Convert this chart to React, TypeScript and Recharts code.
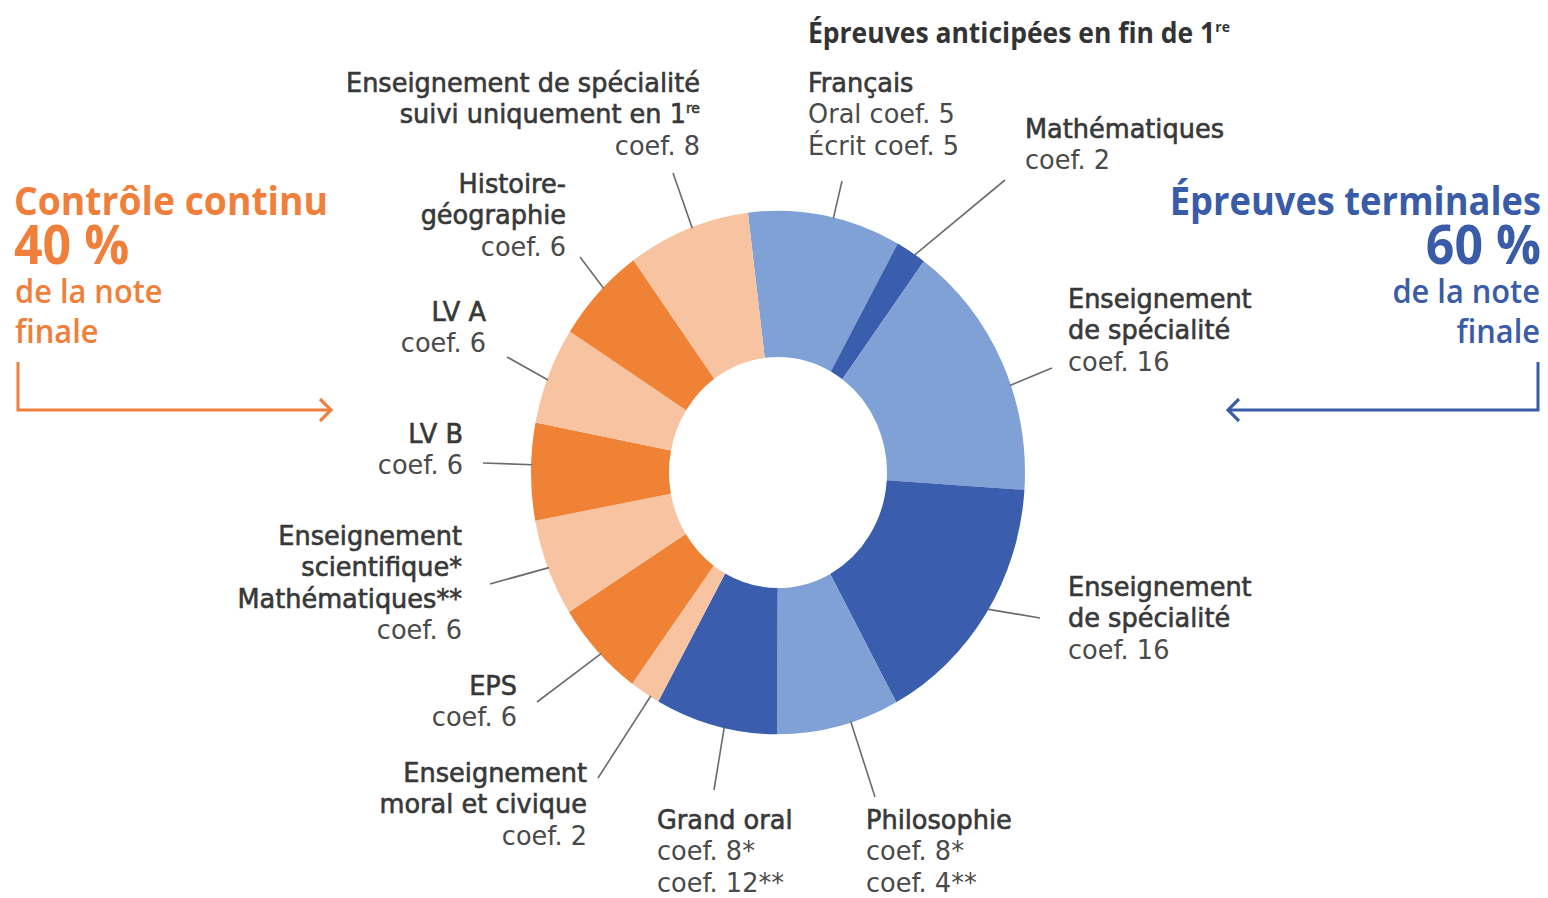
import React from 'react';
import { PieChart, Pie, Cell } from 'recharts';

// The reference picture is stretched vertically by this factor.
const K = 1.06;
const W = 1548;
const H_REF = 898;
const H = H_REF / K;

const subjects = [
  'Français',
  'Mathématiques',
  'Enseignement de spécialité',
  'Enseignement de spécialité',
  'Philosophie',
  'Grand oral',
  'Enseignement moral et civique',
  'EPS',
  'Enseignement scientifique / Mathématiques',
  'LV B',
  'LV A',
  'Histoire-géographie',
  'Enseignement de spécialité suivi uniquement en 1re',
];
const coefficients = [10, 2, 16, 16, 8, 8, 2, 6, 6, 6, 6, 6, 8];
const tones = [
  'blueLight', 'blueDark', 'blueLight', 'blueDark', 'blueLight', 'blueDark',
  'orangeLight', 'orange', 'orangeLight', 'orange', 'orangeLight', 'orange', 'orangeLight',
];
const palette: Record<string, string> = {
  blueLight: '#7FA1D6',
  blueDark: '#3A5DAD',
  orangeLight: '#F7C3A1',
  orange: '#F08235',
};

const labelLines: string[][] = [
  ['Français', 'Oral coef. 5', 'Écrit coef. 5'],
  ['Mathématiques', 'coef. 2'],
  ['Enseignement', 'de spécialité', 'coef. 16'],
  ['Enseignement', 'de spécialité', 'coef. 16'],
  ['Philosophie', 'coef. 8*', 'coef. 4**'],
  ['Grand oral', 'coef. 8*', 'coef. 12**'],
  ['Enseignement', 'moral et civique', 'coef. 2'],
  ['EPS', 'coef. 6'],
  ['Enseignement', 'scientifique*', 'Mathématiques**', 'coef. 6'],
  ['LV B', 'coef. 6'],
  ['LV A', 'coef. 6'],
  ['Histoire-', 'géographie', 'coef. 6'],
  ['Enseignement de spécialité', 'suivi uniquement en 1^re', 'coef. 8'],
];
const nameLineCount = [1, 1, 2, 2, 1, 1, 2, 1, 3, 1, 1, 2, 2];

// label placement (reference pixel coords)
const labelLayout = [
  { x: 808, anchor: 'start', y: 92, lx: 842, ly: 181, shift: 2 },
  { x: 1025, anchor: 'start', y: 138, lx: 1005, ly: 180, shift: 1 },
  { x: 1068, anchor: 'start', y: 308, lx: 1052, ly: 368, shift: 5.5 },
  { x: 1068, anchor: 'start', y: 596, lx: 1040, ly: 618, shift: -1 },
  { x: 866, anchor: 'start', y: 829, lx: 875, ly: 797, shift: -3 },
  { x: 657, anchor: 'start', y: 829, lx: 714, ly: 790, shift: -2 },
  { x: 587, anchor: 'end', y: 782, lx: 598, ly: 778, shift: -1.5 },
  { x: 517, anchor: 'end', y: 695, lx: 537, ly: 702, shift: -1 },
  { x: 462, anchor: 'end', y: 545, lx: 490, ly: 584, shift: 0 },
  { x: 463, anchor: 'end', y: 443, lx: 483, ly: 463, shift: 1.5 },
  { x: 486, anchor: 'end', y: 321, lx: 507, ly: 357, shift: -1 },
  { x: 566, anchor: 'end', y: 193, lx: 580, ly: 257, shift: 1.5 },
  { x: 700, anchor: 'end', y: 92, lx: 673, ly: 173, shift: 1 },
];

const LINE_GAP = 31.5;
const LABEL_FONT = '"DejaVu Sans", sans-serif';
const LABEL_SIZE = 25.6;
const HEAD_FONT = '"Open Sans", sans-serif';
const ORANGE = '#EF7F3A';
const BLUE = '#3A5CA8';

const data = subjects.map((name, i) => ({
  name,
  value: coefficients[i],
  color: palette[tones[i]],
}));

const RAD = Math.PI / 180;

function renderLine(text: string, key: number) {
  const parts = text.split('^');
  if (parts.length === 1) return text;
  return (
    <>
      {parts[0]}
      <tspan key={key} fontSize={14} dy={-10}>{parts[1]}</tspan>
    </>
  );
}

function renderLabel(props: any) {
  const { cx, cy, midAngle, outerRadius, index } = props;
  const lay = labelLayout[index];
  const a = (midAngle - lay.shift) * RAD;
  const r = outerRadius - 1;
  const sx = cx + r * Math.cos(a);
  const sy = cy - r * Math.sin(a);
  const ex = lay.lx;
  const ey = lay.ly / K;
  const lines = labelLines[index];
  return (
    <g key={`lbl-${index}`}>
      <line x1={sx} y1={sy} x2={ex} y2={ey} stroke="#6b6b6b" strokeWidth={1.6} />
      {lines.map((t, i) => {
        const isName = i < nameLineCount[index];
        return (
          <text
            key={i}
            x={lay.x}
            y={(lay.y + i * LINE_GAP) / K}
            textAnchor={lay.anchor as any}
            fontFamily={LABEL_FONT}
            fontSize={LABEL_SIZE}
            fill={isName ? '#383838' : '#4a4a4a'}
            stroke={isName ? '#383838' : 'none'}
            strokeWidth={isName ? 0.6 : 0}
          >
            {renderLine(t, i)}
          </text>
        );
      })}
    </g>
  );
}

export default function App() {
  return (
    <div
      style={{
        position: 'absolute',
        left: 0,
        top: 0,
        width: W,
        height: H_REF,
        overflow: 'hidden',
        background: '#ffffff',
      }}
    >
      <div
        style={{
          position: 'absolute',
          left: 0,
          top: 0,
          width: W,
          height: H,
          transform: `scale(1, ${K})`,
          transformOrigin: '0 0',
        }}
      >
        <PieChart width={W} height={H} margin={{ top: 0, right: 0, bottom: 0, left: 0 }}>
          <Pie
            data={data}
            dataKey="value"
            nameKey="name"
            cx={778}
            cy={472.5 / K}
            innerRadius={109}
            outerRadius={247}
            startAngle={97}
            endAngle={-263}
            stroke="none"
            isAnimationActive={false}
            label={renderLabel}
            labelLine={false}
          >
            {data.map((d, i) => (
              <Cell key={`c-${i}`} fill={d.color} />
            ))}
          </Pie>
        </PieChart>
        <svg
          width={W}
          height={H}
          style={{ position: 'absolute', left: 0, top: 0, pointerEvents: 'none' }}
        >
          {/* title */}
          <text x={808} y={43 / K} fontFamily={HEAD_FONT} fontWeight={700} fontSize={26.5} fill="#333">
            Épreuves anticipées en fin de 1<tspan fontSize={14} dy={-10}>re</tspan>
          </text>
          {/* left block */}
          <text x={14} y={215 / K} fontFamily={HEAD_FONT} fontWeight={700} fontSize={37.3} fill={ORANGE}>
            Contrôle continu
          </text>
          <text x={14} y={264 / K} fontFamily={HEAD_FONT} fontWeight={700} fontSize={50} fill={ORANGE}>
            40 %
          </text>
          <text x={15} y={303 / K} fontFamily={HEAD_FONT} fontWeight={600} fontSize={30.8} fill={ORANGE}>
            de la note
          </text>
          <text x={15} y={343 / K} fontFamily={HEAD_FONT} fontWeight={600} fontSize={30.8} fill={ORANGE}>
            finale
          </text>
          <polyline
            points={`18,${362 / K} 18,${410 / K} 331,${410 / K}`}
            fill="none"
            stroke={ORANGE}
            strokeWidth={3}
          />
          <polyline
            points={`320,${399 / K} 331,${410 / K} 320,${421 / K}`}
            fill="none"
            stroke={ORANGE}
            strokeWidth={3}
          />
          {/* right block */}
          <text x={1541} y={215 / K} textAnchor="end" fontFamily={HEAD_FONT} fontWeight={700} fontSize={36.3} fill={BLUE}>
            Épreuves terminales
          </text>
          <text x={1541} y={264 / K} textAnchor="end" fontFamily={HEAD_FONT} fontWeight={700} fontSize={50} fill={BLUE}>
            60 %
          </text>
          <text x={1540} y={303 / K} textAnchor="end" fontFamily={HEAD_FONT} fontWeight={600} fontSize={30.8} fill={BLUE}>
            de la note
          </text>
          <text x={1540} y={343 / K} textAnchor="end" fontFamily={HEAD_FONT} fontWeight={600} fontSize={30.8} fill={BLUE}>
            finale
          </text>
          <polyline
            points={`1538,${362 / K} 1538,${410 / K} 1228,${410 / K}`}
            fill="none"
            stroke={BLUE}
            strokeWidth={3}
          />
          <polyline
            points={`1239,${399 / K} 1228,${410 / K} 1239,${421 / K}`}
            fill="none"
            stroke={BLUE}
            strokeWidth={3}
          />
        </svg>
      </div>
    </div>
  );
}
